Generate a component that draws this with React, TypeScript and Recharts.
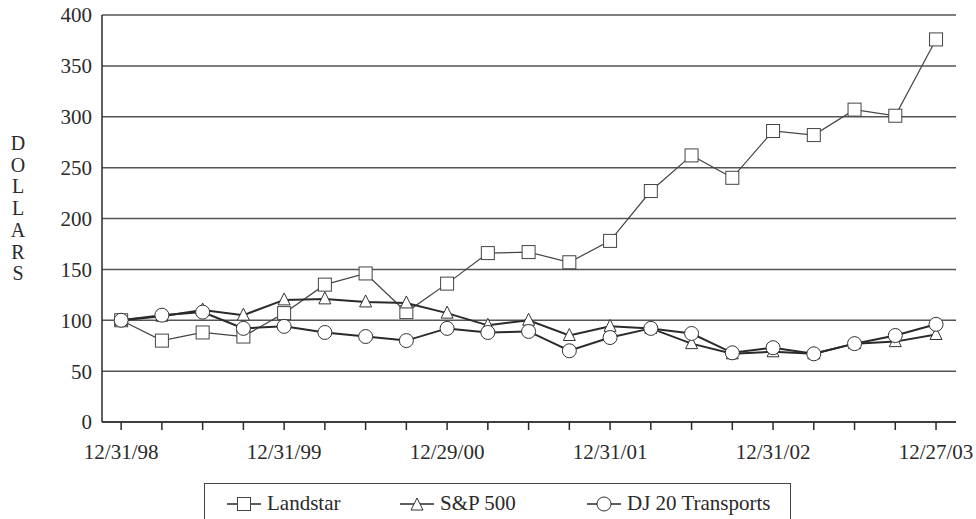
import { LineChart, Line, XAxis, YAxis, CartesianGrid } from 'recharts';

const periodLabels = [
  '12/31/98', '', '', '', '12/31/99', '', '', '', '12/29/00', '', '', '',
  '12/31/01', '', '', '', '12/31/02', '', '', '', '12/27/03',
];
const landstar = [100, 80, 88, 84, 107, 135, 146, 108, 136, 166, 167, 157, 178, 227, 262, 240, 286, 282, 307, 301, 376];
const sp500 = [100, 104, 110, 105, 120, 121, 118, 117, 107, 95, 100, 85, 94, 92, 77, 67, 69, 67, 77, 79, 86];
const dj20 = [100, 105, 108, 92, 94, 88, 84, 80, 92, 88, 89, 70, 83, 92, 87, 68, 73, 67, 77, 85, 96];
const yTicks = [0, 50, 100, 150, 200, 250, 300, 350, 400];

const data = periodLabels.map((label, i) => ({
  i,
  label,
  landstar: landstar[i],
  sp500: sp500[i],
  dj20: dj20[i],
}));

const FONT = '"Liberation Serif", "Times New Roman", serif';
const INK = '#2a2a2a';

function Square({ cx, cy }: { cx: number; cy: number }) {
  return <rect x={cx - 6.5} y={cy - 6.5} width={13} height={13} fill="#fff" stroke="#444" strokeWidth={1} />;
}
function Triangle({ cx, cy }: { cx: number; cy: number }) {
  return (
    <polygon
      points={`${cx},${cy - 7} ${cx + 6},${cy + 5} ${cx - 6},${cy + 5}`}
      fill="#fff"
      stroke="#333"
      strokeWidth={1}
    />
  );
}
function Circle({ cx, cy }: { cx: number; cy: number }) {
  return <circle cx={cx} cy={cy} r={7} fill="#fff" stroke="#333" strokeWidth={1} />;
}

const dotFor = (Shape: typeof Square) => (p: any) => <Shape key={p.index} cx={p.cx} cy={p.cy} />;

function LegendIcon({ shape }: { shape: 'square' | 'triangle' | 'circle' }) {
  return (
    <svg width={36} height={20} style={{ display: 'block' }}>
      <line x1={1} y1={10} x2={35} y2={10} stroke={INK} strokeWidth={1.5} />
      {shape === 'square' && <Square cx={18} cy={10} />}
      {shape === 'triangle' && <Triangle cx={18} cy={11} />}
      {shape === 'circle' && <Circle cx={18} cy={10} />}
    </svg>
  );
}

const legendItems: { name: string; shape: 'square' | 'triangle' | 'circle'; left: number }[] = [
  { name: 'Landstar', shape: 'square', left: 21 },
  { name: 'S&P 500', shape: 'triangle', left: 194 },
  { name: 'DJ 20 Transports', shape: 'circle', left: 381 },
];

function DollarsLabel() {
  const letters = 'DOLLARS'.split('');
  return (
    <text x={18} y={150} textAnchor="middle" fontFamily={FONT} fontSize={20} fill={INK}>
      {letters.map((ch, k) => (
        <tspan key={k} x={18} dy={k === 0 ? 0 : 21.7}>
          {ch}
        </tspan>
      ))}
    </text>
  );
}

export default function App() {
  return (
    <div style={{ position: 'fixed', left: 0, top: 0, width: 976, height: 519, overflow: 'hidden', background: '#fff' }}>
      <LineChart width={976} height={519} data={data} margin={{ top: 15, right: 20, bottom: 57, left: 0 }}>
        <CartesianGrid vertical={false} stroke="#555" strokeWidth={1.5} />
        <XAxis
          dataKey="i"
          type="number"
          domain={[-0.47, 20.49]}
          ticks={data.map((d) => d.i)}
          interval={0}
          tickFormatter={(v: number) => periodLabels[v] ?? ''}
          tickSize={8}
          tickMargin={14}
          height={40}
          stroke={INK}
          strokeWidth={1.5}
          tick={{ fill: INK, fontSize: 21, fontFamily: FONT }}
        />
        <YAxis
          domain={[0, 400]}
          ticks={yTicks}
          interval={0}
          width={102}
          tickLine={false}
          tickSize={0}
          tickMargin={10}
          stroke={INK}
          strokeWidth={1.5}
          tick={{ fill: INK, fontSize: 21, fontFamily: FONT }}
          label={{ content: () => <DollarsLabel /> }}
        />
        <YAxis yAxisId="right" orientation="right" width={0} domain={[0, 400]} tick={false} tickLine={false} stroke="#666" strokeWidth={1.5} />
        <Line
          dataKey="landstar"
          stroke="#444"
          strokeWidth={1.2}
          dot={dotFor(Square)}
          activeDot={false}
          isAnimationActive={false}
        />
        <Line
          dataKey="sp500"
          stroke={INK}
          strokeWidth={2}
          dot={dotFor(Triangle)}
          activeDot={false}
          isAnimationActive={false}
        />
        <Line
          dataKey="dj20"
          stroke={INK}
          strokeWidth={2}
          dot={dotFor(Circle)}
          activeDot={false}
          isAnimationActive={false}
        />
      </LineChart>
      <div
        style={{
          position: 'absolute',
          left: 204,
          top: 483,
          width: 587,
          height: 60,
          border: '1.5px solid #444',
          boxSizing: 'border-box',
          fontFamily: FONT,
          fontSize: 21,
          color: INK,
        }}
      >
        {legendItems.map((it) => (
          <div
            key={it.name}
            style={{ position: 'absolute', left: it.left, top: 7, display: 'flex', alignItems: 'center', gap: 5, whiteSpace: 'nowrap' }}
          >
            <LegendIcon shape={it.shape} />
            <span>{it.name}</span>
          </div>
        ))}
      </div>
    </div>
  );
}
